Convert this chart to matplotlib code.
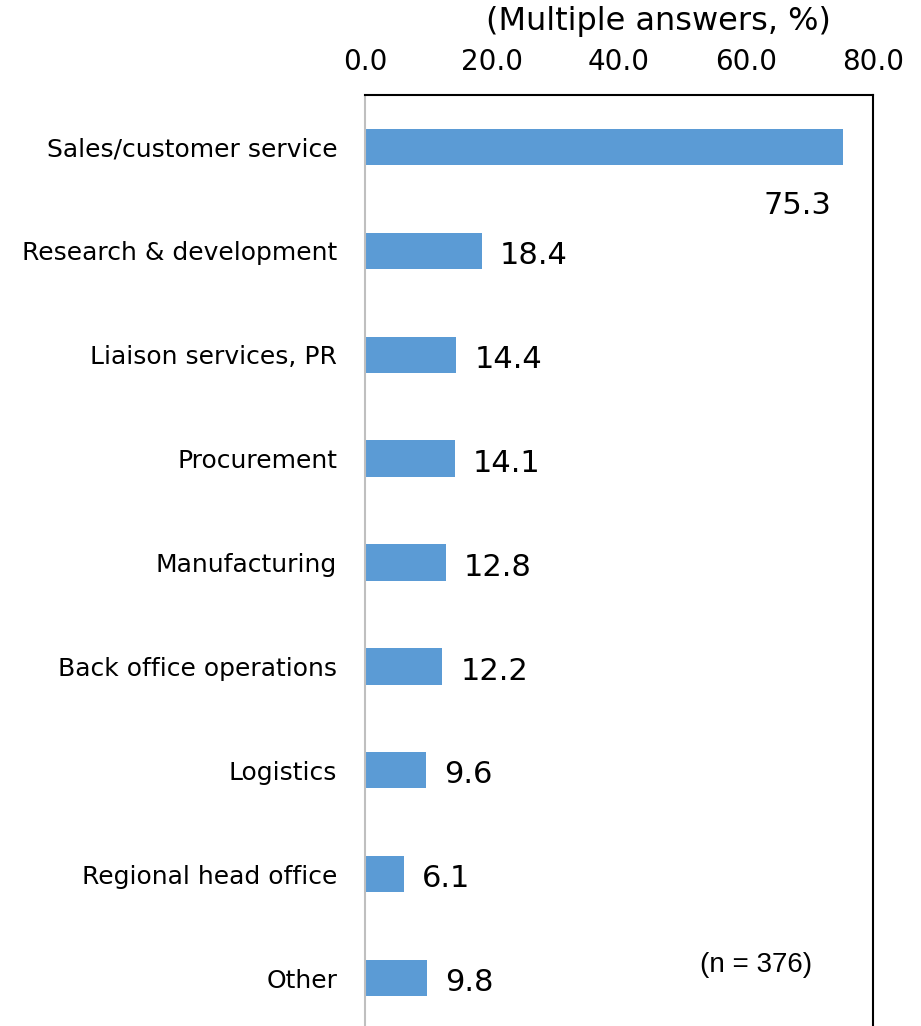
import matplotlib
matplotlib.use("Agg")
import matplotlib.pyplot as plt

categories = ["Sales/customer service", "Research & development", "Liaison services, PR",
              "Procurement", "Manufacturing", "Back office operations", "Logistics",
              "Regional head office", "Other"]
values = [75.3, 18.4, 14.4, 14.1, 12.8, 12.2, 9.6, 6.1, 9.8]
xticks = [0, 20, 40, 60, 80]

W, H = 921, 1026
fig = plt.figure(figsize=(W / 100, H / 100), dpi=100)
left, right, top, bottom = 365, 873, 95, 1030
ax = fig.add_axes([left / W, 1 - bottom / H, (right - left) / W, (bottom - top) / H])

y = list(range(len(categories)))
ax.barh(y, values, height=0.35, color="#5B9BD5")
ax.set_xlim(0, 80)
ax.set_ylim(len(categories) - 0.5, -0.5)

ax.xaxis.tick_top()
ax.set_xticks(xticks)
ax.set_xticklabels([f"{t:.1f}" for t in xticks], fontsize=20)
ax.tick_params(axis="x", length=0, pad=14)
ax.set_yticks(y)
ax.set_yticklabels(categories, fontsize=18)
ax.tick_params(axis="y", length=0, pad=20)

for s in ["top", "right", "bottom"]:
    ax.spines[s].set_color("black")
    ax.spines[s].set_linewidth(1.5)
ax.spines["left"].set_color("#BFBFBF")
ax.spines["left"].set_linewidth(1.5)

for i, v in enumerate(values):
    if v > 60:
        ax.text(v - 1.9, i + 0.56, f"{v:.1f}", ha="right", va="center", fontsize=22)
    else:
        ax.text(v + 2.8, i + 0.045, f"{v:.1f}", ha="left", va="center", fontsize=22)

ax.text(812 / W, 1 - 965 / H, "(n = 376)", transform=fig.transFigure, ha="right", va="center",
        fontsize=20, family="Liberation Sans")

fig.text(658 / W, 1 - 22 / H, "(Multiple answers, %)", ha="center", va="center", fontsize=23)

fig.savefig("out.png", dpi=100)
